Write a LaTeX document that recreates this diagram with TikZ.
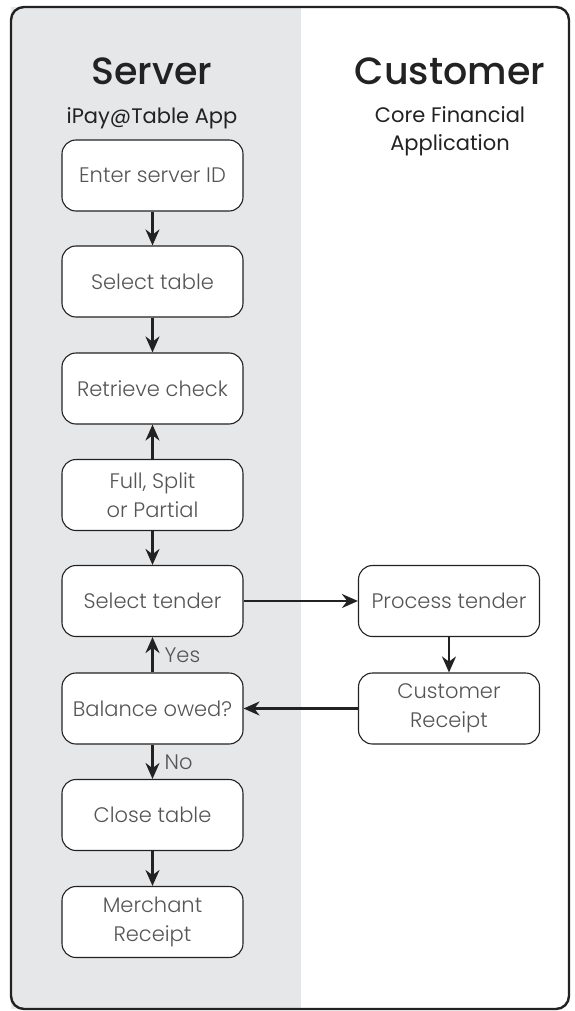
\documentclass[tikz,border=0pt]{standalone}
\usepackage{fontspec}
\setmainfont{Poppins}
\newfontfamily\lightf{Poppins}[UprightFont={* Light}]
\newfontfamily\headf{Poppins}[UprightFont={* Medium}]
\usetikzlibrary{arrows.meta}
\definecolor{panel}{HTML}{E6E7E9}
\definecolor{boxtext}{HTML}{555555}
\definecolor{ink}{HTML}{222222}
\begin{document}
\begin{tikzpicture}[x=1pt,y=-1pt,
  stepbox/.style={draw=ink, line width=1.1pt, fill=white, rounded corners=14pt,
    minimum width=181pt, minimum height=71pt, align=center, text=boxtext,
    font=\lightf\fontsize{21}{29}\selectfont, inner sep=2pt},
  flow/.style={draw=ink, line width=2.3pt, -{Stealth[length=16pt,width=14pt]}},
  lbl/.style={text=boxtext, font=\lightf\fontsize{21}{23}\selectfont, inner sep=1pt}]
\useasboundingbox (0,0) rectangle (575,1011);
\fill[panel] (11,7) rectangle (301,1009);
\draw[ink, line width=2.4pt, rounded corners=13pt] (11,7) rectangle (569,1009);
\node[font=\headf\fontsize{38}{44}\selectfont, text=ink] (hs) at (152,71) {Server};
\node[font=\headf\fontsize{38}{44}\selectfont, text=ink] (hc) at (450,71) {Customer};
\node[font=\fontsize{21}{28}\selectfont, text=ink] (ss) at (152,118) {iPay@Table App};
\node[font=\fontsize{21}{28}\selectfont, text=ink, align=center] (cs) at (450,131) {Core Financial\\Application};
\node[stepbox] (a) at (152.5,175.5) {Enter server ID};
\node[stepbox] (b) at (152.5,281.5) {Select table};
\node[stepbox] (c) at (152.5,388.5) {Retrieve check};
\node[stepbox] (d) at (152.5,495) {Full, Split\\or Partial};
\node[stepbox] (e) at (152.5,601) {Select tender};
\node[stepbox] (f) at (152.5,708.5) {Balance owed?};
\node[stepbox] (g) at (152.5,815) {Close table};
\node[stepbox] (h) at (152.5,922) {Merchant\\Receipt};
\node[stepbox] (p) at (449,601) {Process tender};
\node[stepbox] (q) at (449,708.5) {Customer\\Receipt};
\draw[flow] (a) -- (b);
\draw[flow] (b) -- (c);
\draw[flow] (d) -- (c);
\draw[flow] (d) -- (e);
\draw[flow] (f) -- node[lbl, right=10pt] {Yes} (e);
\draw[flow] (f) -- node[lbl, right=10pt] {No} (g);
\draw[flow] (g) -- (h);
\draw[flow] (e) -- (p);
\draw[flow] (p) -- (q);
\draw[flow] (q) -- (f);
\end{tikzpicture}
\end{document}
